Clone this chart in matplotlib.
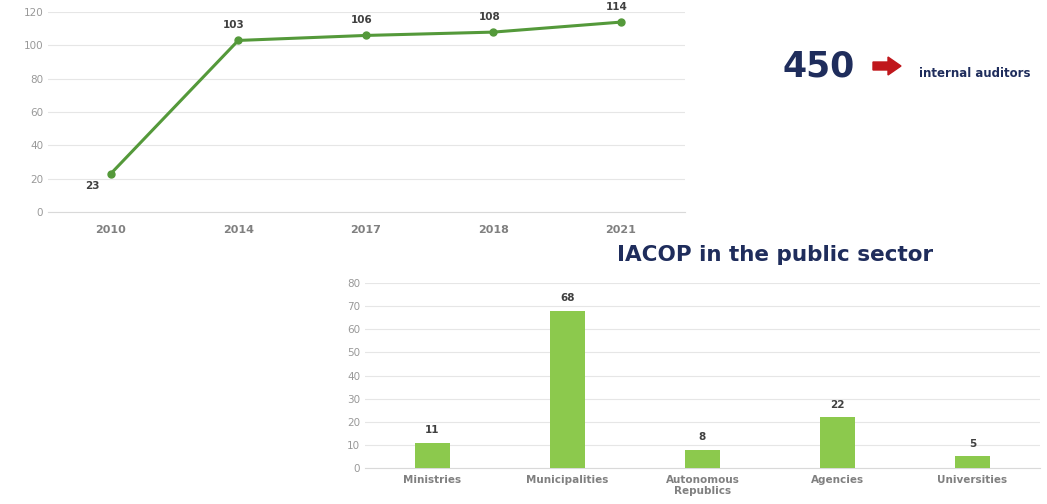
import matplotlib
matplotlib.use("Agg")
from matplotlib import pyplot as plt
from matplotlib.patches import FancyArrow

years = ["2010", "2014", "2017", "2018", "2021"]
auditors = [23, 103, 106, 108, 114]

sectors = ["Ministries", "Municipalities", "Autonomous\nRepublics", "Agencies", "Universities"]
iacop = [11, 68, 8, 22, 5]

navy = "#1f2d5c"
tick_col = "#999999"
lbl_col = "#404040"

plt.rcParams['font.family'] = ['DejaVu Sans']

fig = plt.figure(figsize=(10.47, 5.04), dpi=100)

# top: line chart of internal auditors
ax1 = fig.add_axes([0.046, 0.579, 0.608, 0.397])
xs = list(range(len(years)))
ax1.plot(xs, auditors, color="#54993a", lw=2.2, marker="o", ms=5, zorder=3)
for x, v in zip(xs, auditors):
    if x == 0:
        off = (-13, -9)
    else:
        off = (-3, 11)
    ax1.annotate(str(v), (x, v), xytext=off, textcoords="offset points",
                 ha="center", va="center", fontsize=7.5, fontweight="bold", color=lbl_col)
ax1.set_xlim(-0.49, 4.5)
ax1.set_ylim(0, 120)
ax1.set_yticks(range(0, 121, 20))
ax1.set_xticks(xs)
ax1.set_xticklabels(years, fontweight="bold", fontsize=8)
ax1.grid(axis="y", color="#e6e6e6", lw=0.8)
ax1.set_axisbelow(True)
for s in ax1.spines.values():
    s.set_visible(False)
ax1.spines["bottom"].set_visible(True)
ax1.spines["bottom"].set_color("#d9d9d9")
ax1.tick_params(length=0, labelsize=7.5, labelcolor=tick_col)
ax1.tick_params(axis="x", pad=9, labelsize=8, labelcolor="#808080")

# bottom: IACOP bar chart
ax2 = fig.add_axes([0.3486, 0.0714, 0.6447, 0.367])
bx = list(range(len(sectors)))
ax2.bar(bx, iacop, width=0.26, color="#8cc94d", zorder=3)
for x, v in zip(bx, iacop):
    ax2.annotate(str(v), (x, v), xytext=(0, 9), textcoords="offset points",
                 ha="center", va="center", fontsize=7.5, fontweight="bold", color=lbl_col)
ax2.set_xlim(-0.5, 4.5)
ax2.set_ylim(0, 80)
ax2.set_yticks(range(0, 81, 10))
ax2.set_xticks(bx)
ax2.set_xticklabels(sectors, fontweight="bold", linespacing=1.15)
ax2.grid(axis="y", color="#e6e6e6", lw=0.8)
ax2.set_axisbelow(True)
for s in ax2.spines.values():
    s.set_visible(False)
ax2.spines["bottom"].set_visible(True)
ax2.spines["bottom"].set_color("#d9d9d9")
ax2.tick_params(length=0, labelsize=7.5, labelcolor=tick_col)
ax2.tick_params(axis="x", pad=5, labelcolor="#808080")

fig.text(0.74, 0.494, "IACOP in the public sector", ha="center", va="center",
         fontsize=15.5, fontweight="bold", color=navy)

# 450 -> internal auditors
fig.text(0.782, 0.869, "450", ha="center", va="center", fontsize=25,
         fontweight="bold", color=navy)
fig.add_artist(FancyArrow(8.73, 4.38, 0.15, 0, width=0.08, head_width=0.18,
                          head_length=0.13, length_includes_head=False,
                          color="#c0171c", transform=fig.dpi_scale_trans))
fig.text(0.931, 0.855, "internal auditors", ha="center", va="center", fontsize=8.5,
         fontweight="bold", color=navy)

fig.savefig("out.png", dpi=100)
